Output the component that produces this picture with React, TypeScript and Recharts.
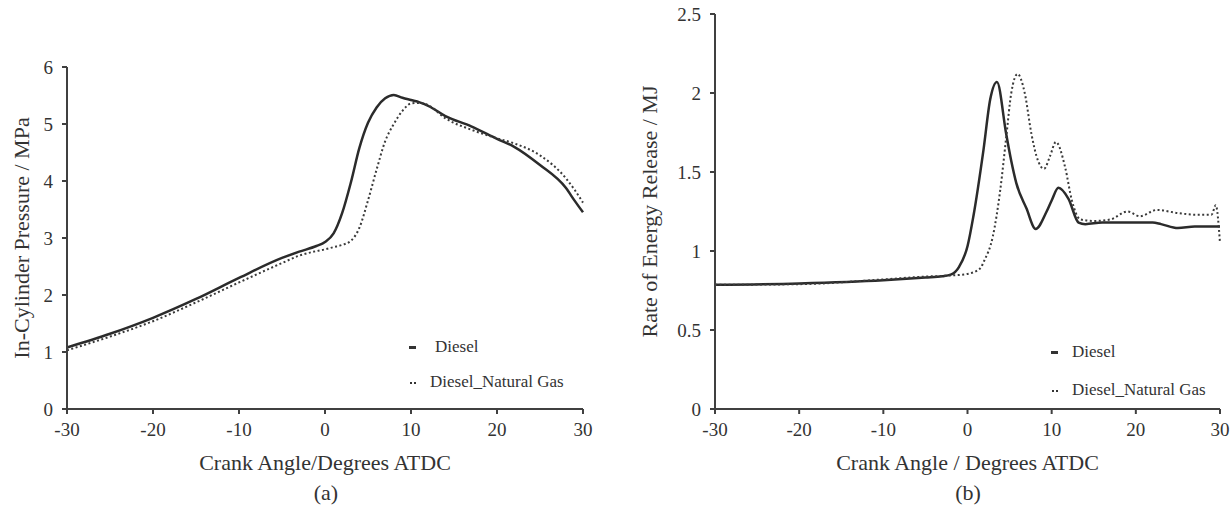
import { LineChart, Line, XAxis, YAxis, Legend } from 'recharts';

const FONT = '"Liberation Serif", "Times New Roman", serif';
const INK = '#333333';
const AXIS = '#404040';

const angleTicks = [-30, -20, -10, 0, 10, 20, 30];
const pressureTicks = [0, 1, 2, 3, 4, 5, 6];
const releaseTicks = [0, 0.5, 1, 1.5, 2, 2.5];
const releaseTickLabels = ['0', '0.5', '1', '1.5', '2', '2.5'];

// (a) in-cylinder pressure, MPa
const pressureAngle = [-30, -25, -20, -15, -10, -5, -3, -1, 0, 1, 2, 3, 4, 5, 6, 7, 8, 9, 10, 11, 12, 14, 17, 20, 22, 25, 28, 29, 30];
const pressureDiesel = [1.08, 1.32, 1.6, 1.93, 2.3, 2.65, 2.76, 2.86, 2.93, 3.08, 3.44, 3.97, 4.58, 5.02, 5.29, 5.45, 5.51, 5.46, 5.42, 5.38, 5.32, 5.14, 4.96, 4.74, 4.6, 4.28, 3.88, 3.66, 3.45];
const pressureGas = [1.03, 1.27, 1.54, 1.87, 2.22, 2.56, 2.69, 2.77, 2.8, 2.84, 2.88, 2.95, 3.18, 3.66, 4.2, 4.7, 5.0, 5.23, 5.36, 5.37, 5.33, 5.1, 4.9, 4.75, 4.66, 4.45, 4.05, 3.85, 3.62];

// (b) rate of energy release, MJ
const releaseAngleDiesel = [-30, -20, -10, -5, -3, -2, -1, 0, 0.7, 1.9, 2.7, 3.5, 4.6, 5.2, 5.8, 7, 8.1, 9.4, 10, 10.8, 12, 13.2, 14, 16, 20, 22, 23, 25, 27, 30];
const releaseDiesel = [0.786, 0.795, 0.815, 0.832, 0.84, 0.85, 0.9, 1.03, 1.22, 1.64, 1.96, 2.07, 1.74, 1.57, 1.43, 1.27, 1.14, 1.25, 1.32, 1.4, 1.33, 1.18, 1.17, 1.18, 1.18, 1.18, 1.17, 1.145, 1.155, 1.155];
const releaseAngleGas = [-30, -20, -10, -5, -2, 0, 1.5, 2, 3, 3.9, 4.6, 5.2, 5.95, 6.8, 7.6, 8.2, 9.1, 9.8, 10.5, 11.6, 12.4, 13.4, 15, 17, 19, 20.5, 22.5, 25, 27, 29, 29.5, 30];
const releaseGas = [0.786, 0.79, 0.82, 0.838, 0.845, 0.855, 0.89, 0.94, 1.09, 1.39, 1.72, 2.0, 2.12, 2.0, 1.74, 1.6, 1.52, 1.6, 1.69, 1.53, 1.32, 1.2, 1.19, 1.2, 1.25, 1.22, 1.26, 1.24, 1.23, 1.23, 1.29, 1.05];

const zip = (xs: number[], ys: number[]) => xs.map((x, i) => ({ angle: x, value: ys[i] }));

const tickStyle = { fill: INK, fontSize: 19, fontFamily: FONT };
const titleStyle = { fill: INK, fontSize: 22, fontFamily: FONT, textAnchor: 'middle' as const };

function CurveLegend({ payload, textX, rowGap }: any) {
  return (
    <div style={{ position: 'relative', width: 190, height: rowGap + 20, fontFamily: FONT, fontSize: 17, color: INK }}>
      {(payload || []).map((entry: any, i: number) => {
        const dotted = !!entry.payload?.strokeDasharray;
        return (
          <div key={entry.value} style={{ position: 'absolute', left: 0, top: i * rowGap, height: 20, width: 190 }}>
            <svg width={10} height={20} style={{ position: 'absolute', left: 0, top: 0 }}>
              {dotted ? (
                <>
                  <rect x={1} y={10} width={2} height={2} fill={INK} />
                  <rect x={5} y={10} width={2} height={2} fill={INK} />
                </>
              ) : (
                <rect x={0} y={9} width={7} height={3} fill={INK} />
              )}
            </svg>
            <span style={{ position: 'absolute', left: textX[i], top: 0, lineHeight: '20px', whiteSpace: 'nowrap' }}>
              {entry.value}
            </span>
          </div>
        );
      })}
    </div>
  );
}

function PressureChart() {
  return (
    <LineChart width={600} height={515} margin={{ top: 67, right: 17, bottom: 66, left: 0 }}>
      <XAxis
        type="number"
        dataKey="angle"
        domain={[-30, 30]}
        ticks={angleTicks}
        height={40}
        tick={tickStyle}
        tickSize={5}
        tickMargin={9}
        axisLine={{ stroke: AXIS, strokeWidth: 2 }}
        tickLine={{ stroke: AXIS, strokeWidth: 2 }}
        allowDuplicatedCategory={false}
        label={{ value: 'Crank Angle/Degrees ATDC', position: 'bottom', offset: 5, style: titleStyle }}
      />
      <YAxis
        type="number"
        domain={[0, 6]}
        ticks={pressureTicks}
        width={67}
        tick={tickStyle}
        tickSize={5}
        tickMargin={9}
        axisLine={{ stroke: AXIS, strokeWidth: 2 }}
        tickLine={{ stroke: AXIS, strokeWidth: 2 }}
        label={{ value: 'In-Cylinder Pressure / MPa', angle: -90, position: 'insideLeft', offset: 21, style: titleStyle }}
      />
      <Legend
        layout="vertical"
        align="center"
        verticalAlign="middle"
        wrapperStyle={{ left: 409, top: 337, width: 190 }}
        content={<CurveLegend textX={[26, 21]} rowGap={35} />}
      />
      <Line data={zip(pressureAngle, pressureDiesel)} dataKey="value" name="Diesel" type="monotone" stroke="#2b2b2b" strokeWidth={2.5} dot={false} isAnimationActive={false} />
      <Line data={zip(pressureAngle, pressureGas)} dataKey="value" name="Diesel_Natural Gas" type="monotone" stroke="#3a3a3a" strokeWidth={2} strokeDasharray="2 2.5" dot={false} isAnimationActive={false} />
    </LineChart>
  );
}

function ReleaseChart() {
  return (
    <LineChart width={615} height={515} margin={{ top: 14, right: 10, bottom: 66, left: 0 }}>
      <XAxis
        type="number"
        dataKey="angle"
        domain={[-30, 30]}
        ticks={angleTicks}
        height={40}
        tick={tickStyle}
        tickSize={5}
        tickMargin={9}
        axisLine={{ stroke: AXIS, strokeWidth: 2 }}
        tickLine={{ stroke: AXIS, strokeWidth: 2 }}
        allowDuplicatedCategory={false}
        label={{ value: 'Crank Angle / Degrees ATDC', position: 'bottom', offset: 5, style: titleStyle }}
      />
      <YAxis
        type="number"
        domain={[0, 2.5]}
        ticks={releaseTicks}
        tickFormatter={(v: number) => releaseTickLabels[releaseTicks.indexOf(v)] ?? String(v)}
        width={100}
        tick={tickStyle}
        tickSize={5}
        tickMargin={9}
        axisLine={{ stroke: AXIS, strokeWidth: 2 }}
        tickLine={{ stroke: AXIS, strokeWidth: 2 }}
        label={{ value: 'Rate of Energy Release / MJ', angle: -90, position: 'insideLeft', offset: 34, style: titleStyle }}
      />
      <Legend
        layout="vertical"
        align="center"
        verticalAlign="middle"
        wrapperStyle={{ left: 436, top: 342, width: 190 }}
        content={<CurveLegend textX={[21, 21]} rowGap={38} />}
      />
      <Line data={zip(releaseAngleDiesel, releaseDiesel)} dataKey="value" name="Diesel" type="monotone" stroke="#2b2b2b" strokeWidth={2.5} dot={false} isAnimationActive={false} />
      <Line data={zip(releaseAngleGas, releaseGas)} dataKey="value" name="Diesel_Natural Gas" type="monotone" stroke="#3a3a3a" strokeWidth={2} strokeDasharray="2 2.5" dot={false} isAnimationActive={false} />
    </LineChart>
  );
}

export default function App() {
  const caption = { position: 'absolute' as const, top: 481, width: 60, textAlign: 'center' as const, fontFamily: FONT, fontSize: 22, lineHeight: '24px', color: INK };
  return (
    <div style={{ position: 'absolute', left: 0, top: 0, width: 1230, height: 515, background: '#fff', overflow: 'hidden' }}>
      <div style={{ position: 'absolute', left: 0, top: 0 }}>
        <PressureChart />
      </div>
      <div style={{ position: 'absolute', left: 615, top: 0 }}>
        <ReleaseChart />
      </div>
      <div style={{ ...caption, left: 296 }}>(a)</div>
      <div style={{ ...caption, left: 938 }}>(b)</div>
    </div>
  );
}
